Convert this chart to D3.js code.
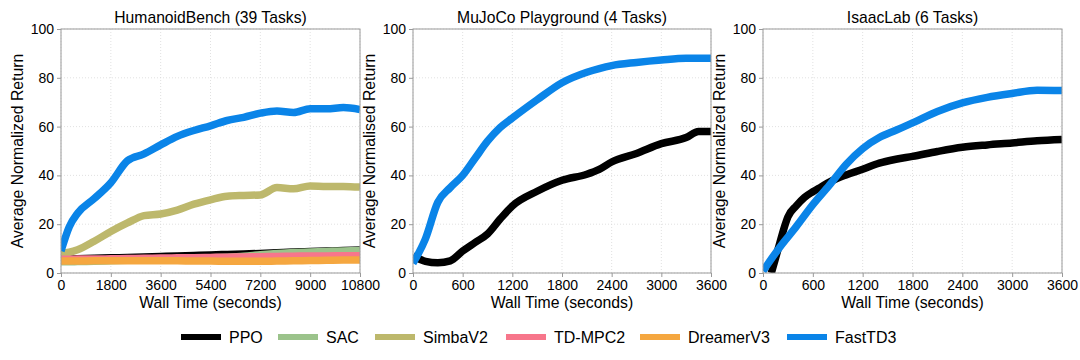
<!DOCTYPE html>
<html>
<head>
<meta charset="utf-8">
<script src="https://cdn.jsdelivr.net/npm/d3@7"></script>
<style>
body { margin: 0; background: #fff; }
svg text { font-family: "Liberation Sans", Arial, Helvetica, sans-serif; fill: #000; }
</style>
</head>
<body>
<div id="chart"></div>
<script>
// series names + colours
var methods = ["PPO", "SAC", "SimbaV2", "TD-MPC2", "DreamerV3", "FastTD3"];
var colors  = ["#000000", "#9bc38b", "#bdb86c", "#f7768b", "#f5a740", "#0a84e8"];

var yTicks = [0, 20, 40, 60, 80, 100];
var hbTicks = [0, 1800, 3600, 5400, 7200, 9000, 10800];
var shortTicks = [0, 600, 1200, 1800, 2400, 3000, 3600];

// HumanoidBench (39 tasks)
var hbTime      = [0, 300, 600, 1200, 1800, 2400, 3000, 3600, 4200, 4800, 5400, 6000, 6600, 7200, 7800, 8400, 9000, 9600, 10200, 10800];
var hbPPO       = [5.6, 5.7, 5.8, 6.0, 6.2, 6.4, 6.6, 6.8, 7.0, 7.2, 7.4, 7.6, 7.8, 8.0, 8.3, 8.6, 8.8, 9.0, 9.2, 9.4];
var hbSAC       = [4.6, 4.6, 4.7, 4.8, 5.0, 5.2, 5.4, 5.6, 5.8, 6.0, 6.2, 6.5, 6.9, 7.5, 8.0, 8.4, 8.6, 8.8, 9.0, 9.2];
var hbSimbaV2   = [8.0, 8.5, 9.5, 13.0, 17.0, 20.5, 23.5, 24.2, 25.8, 28.2, 30.0, 31.5, 31.8, 32.0, 35.0, 34.5, 35.7, 35.5, 35.5, 35.2];
var hbTDMPC2    = [5.6, 5.6, 5.7, 5.7, 5.8, 5.9, 6.0, 6.1, 6.2, 6.3, 6.4, 6.5, 6.6, 6.7, 6.8, 6.9, 7.0, 7.0, 7.1, 7.1];
var hbDreamerV3 = [4.9, 4.9, 4.9, 5.0, 5.0, 5.0, 5.0, 5.0, 5.0, 4.9, 4.9, 4.8, 4.8, 4.8, 4.9, 5.0, 5.1, 5.2, 5.3, 5.3];
var hbFastTD3   = [9.0, 19.0, 24.5, 30.5, 37.0, 46.0, 48.8, 52.5, 56.0, 58.4, 60.3, 62.5, 63.8, 65.5, 66.4, 65.8, 67.3, 67.3, 67.8, 67.0];

// MuJoCo Playground (4 tasks)
var mpTime    = [0, 150, 300, 450, 600, 750, 900, 1050, 1200, 1500, 1800, 2100, 2250, 2400, 2700, 3000, 3300, 3450, 3600];
var mpPPO     = [7.0, 4.8, 4.2, 5.0, 9.0, 12.5, 16.0, 22.0, 27.5, 33.5, 38.0, 40.5, 42.5, 45.5, 49.0, 53.0, 55.5, 58.0, 58.0];
var mpFastTD3 = [4.0, 14.0, 29.0, 35.0, 40.0, 47.0, 54.0, 59.5, 63.5, 71.0, 78.0, 82.3, 83.8, 85.0, 86.3, 87.3, 88.0, 88.0, 88.0];

// IsaacLab (6 tasks)
var ilPPOTime = [100, 150, 200, 250, 300, 400, 500, 600, 700, 800, 1000, 1200, 1400, 1600, 1800, 2100, 2400, 2700, 3000, 3300, 3600];
var ilPPO     = [0, 6.0, 12.0, 18.0, 23.0, 27.5, 31.0, 33.3, 35.3, 37.3, 40.2, 42.5, 45.0, 46.6, 47.8, 49.8, 51.5, 52.5, 53.3, 54.2, 54.7];
var ilFastTime = [0, 200, 400, 600, 800, 1000, 1200, 1400, 1600, 1800, 2100, 2400, 2700, 3000, 3300, 3600];
var ilFastTD3  = [0.8, 10.5, 19.0, 28.0, 36.0, 44.5, 51.0, 55.5, 58.5, 61.5, 66.2, 69.7, 72.0, 73.6, 74.9, 74.8];

function pairs(xs, ys) {
	return xs.map(function(t, i) { return {t: t, v: ys[i]}; });
}

var panels = [
	{title: "HumanoidBench (39 Tasks)", ylabel: "Average Normalized Return", xmax: 10800, ticks: hbTicks, left: 61, right: 360,
	 series: [
		{name: "PPO", data: pairs(hbTime, hbPPO)},
		{name: "SAC", data: pairs(hbTime, hbSAC)},
		{name: "SimbaV2", data: pairs(hbTime, hbSimbaV2)},
		{name: "TD-MPC2", data: pairs(hbTime, hbTDMPC2)},
		{name: "DreamerV3", data: pairs(hbTime, hbDreamerV3)},
		{name: "FastTD3", data: pairs(hbTime, hbFastTD3)}
	]},
	{title: "MuJoCo Playground (4 Tasks)", ylabel: "Average Normalised Return", xmax: 3600, ticks: shortTicks, left: 413, right: 711,
	 series: [
		{name: "PPO", data: pairs(mpTime, mpPPO)},
		{name: "FastTD3", data: pairs(mpTime, mpFastTD3)}
	]},
	{title: "IsaacLab (6 Tasks)", ylabel: "Average Normalized Return", xmax: 3600, ticks: shortTicks, left: 763, right: 1062,
	 series: [
		{name: "PPO", data: pairs(ilPPOTime, ilPPO)},
		{name: "FastTD3", data: pairs(ilFastTime, ilFastTD3)}
	]}
];

var width = 1080, height = 360;
var plotTop = 29, plotBottom = 273;
var color = d3.scaleOrdinal().domain(methods).range(colors);

var svg = d3.select('#chart').append('svg')
	.attr('width', width)
	.attr('height', height);

panels.forEach(function(p, pi) {
	var x = d3.scaleLinear().domain([0, p.xmax]).range([p.left, p.right]);
	var y = d3.scaleLinear().domain([0, 100]).range([plotBottom, plotTop]);
	var g = svg.append('g');

	// grid
	g.selectAll('.gx').data(p.ticks).enter().append('line')
		.attr('x1', function(d) { return x(d); }).attr('x2', function(d) { return x(d); })
		.attr('y1', plotTop).attr('y2', plotBottom)
		.attr('stroke', '#d9d9d9').attr('stroke-width', 0.8).attr('stroke-dasharray', '1,2');
	g.selectAll('.gy').data(yTicks).enter().append('line')
		.attr('x1', p.left).attr('x2', p.right)
		.attr('y1', function(d) { return y(d); }).attr('y2', function(d) { return y(d); })
		.attr('stroke', '#d9d9d9').attr('stroke-width', 0.8).attr('stroke-dasharray', '1,2');

	// lines, clipped to the plot area
	svg.append('clipPath').attr('id', 'clip' + pi)
		.append('rect').attr('x', p.left).attr('y', plotTop)
		.attr('width', p.right - p.left).attr('height', plotBottom - plotTop);

	var line = d3.line()
		.x(function(d) { return x(d.t); })
		.y(function(d) { return y(d.v); })
		.curve(d3.curveMonotoneX);

	g.append('g').attr('clip-path', 'url(#clip' + pi + ')')
		.selectAll('path').data(p.series).enter().append('path')
		.attr('d', function(s) { return line(s.data); })
		.attr('fill', 'none')
		.attr('stroke', function(s) { return color(s.name); })
		.attr('stroke-width', 7.5)
		.attr('stroke-linejoin', 'round');

	// frame
	g.append('rect')
		.attr('x', p.left).attr('y', plotTop)
		.attr('width', p.right - p.left).attr('height', plotBottom - plotTop)
		.attr('fill', 'none').attr('stroke', '#9a9a9a').attr('stroke-width', 1);

	var xAxis = g.append('g')
		.attr('transform', 'translate(0,' + plotBottom + ')')
		.call(d3.axisBottom(x).tickValues(p.ticks).tickSize(4).tickPadding(3).tickFormat(d3.format('d')));
	var yAxis = g.append('g')
		.attr('transform', 'translate(' + p.left + ',0)')
		.call(d3.axisLeft(y).tickValues(yTicks).tickSize(4).tickPadding(3));
	[xAxis, yAxis].forEach(function(a) {
		a.select('.domain').remove();
		a.selectAll('line').attr('stroke', '#9a9a9a');
		a.selectAll('text').style('font-size', '14px').style('font-family', '"Liberation Sans", Arial, sans-serif').attr('fill', '#000');
	});

	g.append('text')
		.attr('x', (p.left + p.right) / 2).attr('y', 23)
		.attr('text-anchor', 'middle').style('font-size', '15.7px')
		.text(p.title);

	g.append('text')
		.attr('x', (p.left + p.right) / 2).attr('y', 308)
		.attr('text-anchor', 'middle').style('font-size', '15.8px')
		.text('Wall Time (seconds)');

	g.append('text')
		.attr('transform', 'rotate(-90)')
		.attr('x', -(plotTop + plotBottom) / 2).attr('y', p.left - 38)
		.attr('text-anchor', 'middle').style('font-size', '15.8px')
		.text(p.ylabel);
});

// legend
var legendX = [181, 278, 375, 506, 640, 787];
var legend = svg.append('g').selectAll('g').data(methods).enter().append('g')
	.attr('transform', function(d, i) { return 'translate(' + legendX[i] + ',337)'; });
legend.append('line')
	.attr('x1', 0).attr('x2', 40).attr('y1', 0).attr('y2', 0)
	.attr('stroke', function(d) { return color(d); })
	.attr('stroke-width', 6);
legend.append('text')
	.attr('x', 48).attr('y', 5.5)
	.style('font-size', '16px')
	.text(function(d) { return d; });
</script>
</body>
</html>
